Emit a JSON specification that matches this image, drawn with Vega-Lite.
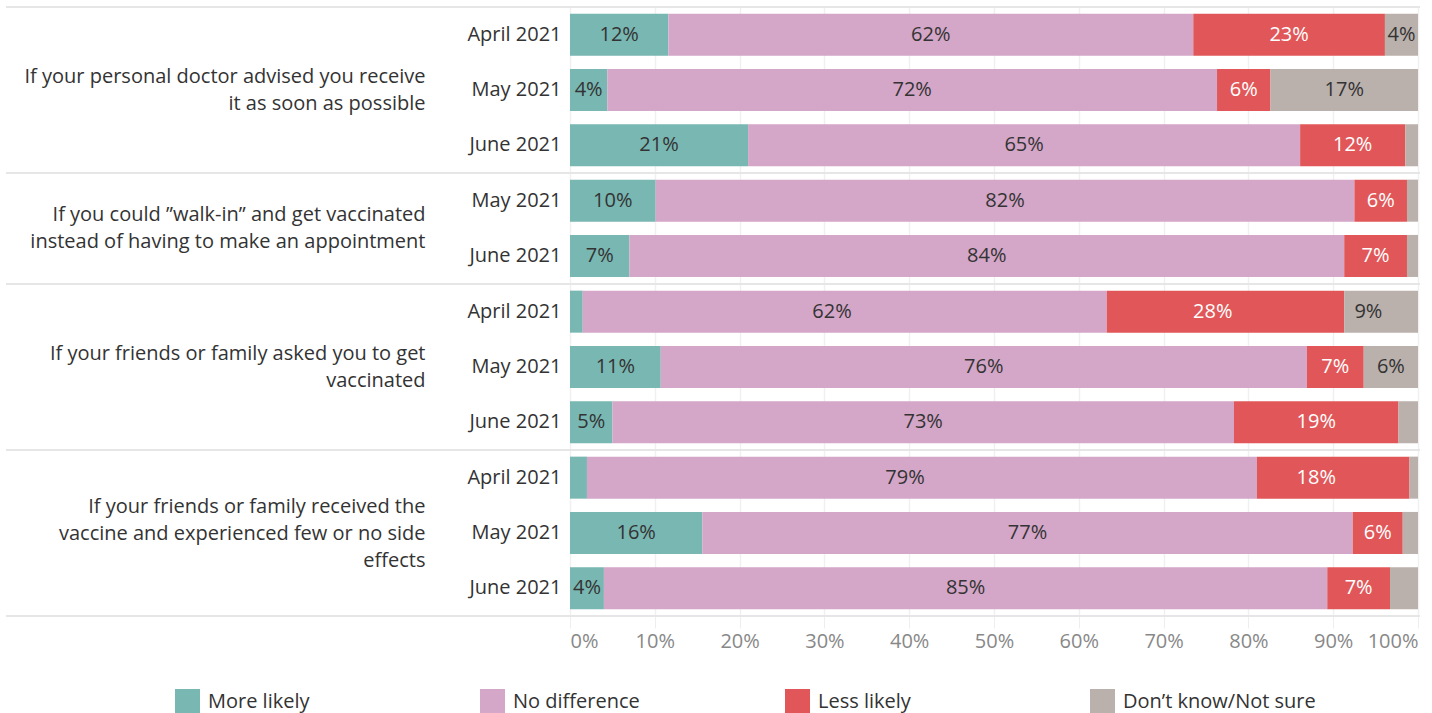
{
  "$schema": "https://vega.github.io/schema/vega-lite/v6.json",
  "padding": {"top": 6, "left": 5, "right": 10, "bottom": 0},
  "bounds": "flush",
  "data": {"values": [
    {"q": "doctor", "month": "April 2021", "response": "More likely", "k": 1, "value": 0.116},
    {"q": "doctor", "month": "April 2021", "response": "No difference", "k": 2, "value": 0.619},
    {"q": "doctor", "month": "April 2021", "response": "Less likely", "k": 3, "value": 0.226},
    {"q": "doctor", "month": "April 2021", "response": "Don’t know/Not sure", "k": 4, "value": 0.039},
    {"q": "doctor", "month": "May 2021", "response": "More likely", "k": 1, "value": 0.044},
    {"q": "doctor", "month": "May 2021", "response": "No difference", "k": 2, "value": 0.719},
    {"q": "doctor", "month": "May 2021", "response": "Less likely", "k": 3, "value": 0.063},
    {"q": "doctor", "month": "May 2021", "response": "Don’t know/Not sure", "k": 4, "value": 0.174},
    {"q": "doctor", "month": "June 2021", "response": "More likely", "k": 1, "value": 0.21},
    {"q": "doctor", "month": "June 2021", "response": "No difference", "k": 2, "value": 0.651},
    {"q": "doctor", "month": "June 2021", "response": "Less likely", "k": 3, "value": 0.124},
    {"q": "doctor", "month": "June 2021", "response": "Don’t know/Not sure", "k": 4, "value": 0.015},
    {"q": "walkin", "month": "May 2021", "response": "More likely", "k": 1, "value": 0.101},
    {"q": "walkin", "month": "May 2021", "response": "No difference", "k": 2, "value": 0.824},
    {"q": "walkin", "month": "May 2021", "response": "Less likely", "k": 3, "value": 0.062},
    {"q": "walkin", "month": "May 2021", "response": "Don’t know/Not sure", "k": 4, "value": 0.013},
    {"q": "walkin", "month": "June 2021", "response": "More likely", "k": 1, "value": 0.07},
    {"q": "walkin", "month": "June 2021", "response": "No difference", "k": 2, "value": 0.843},
    {"q": "walkin", "month": "June 2021", "response": "Less likely", "k": 3, "value": 0.074},
    {"q": "walkin", "month": "June 2021", "response": "Don’t know/Not sure", "k": 4, "value": 0.013},
    {"q": "asked", "month": "April 2021", "response": "More likely", "k": 1, "value": 0.015},
    {"q": "asked", "month": "April 2021", "response": "No difference", "k": 2, "value": 0.618},
    {"q": "asked", "month": "April 2021", "response": "Less likely", "k": 3, "value": 0.28},
    {"q": "asked", "month": "April 2021", "response": "Don’t know/Not sure", "k": 4, "value": 0.087},
    {"q": "asked", "month": "May 2021", "response": "More likely", "k": 1, "value": 0.107},
    {"q": "asked", "month": "May 2021", "response": "No difference", "k": 2, "value": 0.762},
    {"q": "asked", "month": "May 2021", "response": "Less likely", "k": 3, "value": 0.067},
    {"q": "asked", "month": "May 2021", "response": "Don’t know/Not sure", "k": 4, "value": 0.064},
    {"q": "asked", "month": "June 2021", "response": "More likely", "k": 1, "value": 0.05},
    {"q": "asked", "month": "June 2021", "response": "No difference", "k": 2, "value": 0.733},
    {"q": "asked", "month": "June 2021", "response": "Less likely", "k": 3, "value": 0.194},
    {"q": "asked", "month": "June 2021", "response": "Don’t know/Not sure", "k": 4, "value": 0.023},
    {"q": "received", "month": "April 2021", "response": "More likely", "k": 1, "value": 0.02},
    {"q": "received", "month": "April 2021", "response": "No difference", "k": 2, "value": 0.79},
    {"q": "received", "month": "April 2021", "response": "Less likely", "k": 3, "value": 0.18},
    {"q": "received", "month": "April 2021", "response": "Don’t know/Not sure", "k": 4, "value": 0.01},
    {"q": "received", "month": "May 2021", "response": "More likely", "k": 1, "value": 0.156},
    {"q": "received", "month": "May 2021", "response": "No difference", "k": 2, "value": 0.767},
    {"q": "received", "month": "May 2021", "response": "Less likely", "k": 3, "value": 0.059},
    {"q": "received", "month": "May 2021", "response": "Don’t know/Not sure", "k": 4, "value": 0.018},
    {"q": "received", "month": "June 2021", "response": "More likely", "k": 1, "value": 0.04},
    {"q": "received", "month": "June 2021", "response": "No difference", "k": 2, "value": 0.853},
    {"q": "received", "month": "June 2021", "response": "Less likely", "k": 3, "value": 0.074},
    {"q": "received", "month": "June 2021", "response": "Don’t know/Not sure", "k": 4, "value": 0.033}
  ]},
  "spacing": 0,
  "resolve": {"scale": {"y": "independent", "x": "shared", "color": "shared"}},
  "vconcat": [
    {
      "transform": [{"filter": "datum.q === 'doctor'"}],
      "width": 848,
      "height": {"step": 55.3},
      "layer": [
        {"mark": {"type": "rule", "color": "#e6e6e6", "strokeWidth": 2}, "encoding": {"x": {"value": -564}, "x2": {"value": 850}, "y": {"value": 0}}},
        {
          "mark": {"type": "bar"},
          "encoding": {
            "y": {"field": "month", "type": "ordinal", "sort": ["April 2021", "May 2021", "June 2021"],
              "title": ["If your personal doctor advised you receive", "it as soon as possible"],
              "scale": {"paddingInner": 0.24, "paddingOuter": 0.12},
              "axis": {"titleY": 69.5, "titleX": -145}},
            "x": {"field": "value", "type": "quantitative", "stack": "zero", "scale": {"domain": [0, 1], "nice": false}, "title": null,
              "axis": {"values": [0, 0.1, 0.2, 0.3, 0.4, 0.5, 0.6, 0.7, 0.8, 0.9, 1], "labels": false, "ticks": false, "domain": false, "gridColor": "#f0f0f0", "gridWidth": 1.5}},
            "color": {"field": "response", "type": "nominal", "sort": ["More likely", "No difference", "Less likely", "Don’t know/Not sure"],
              "scale": {"domain": ["More likely", "No difference", "Less likely", "Don’t know/Not sure"], "range": ["#79b7b2", "#d4a6c8", "#e15759", "#bab0ac"]},
              "legend": {"title": null, "orient": "none", "legendX": -395, "legendY": 682, "direction": "horizontal", "columns": 4, "gridAlign": "all", "columnPadding": 79, "symbolType": "square", "symbolSize": 625, "symbolStrokeWidth": 0, "symbolOpacity": 1, "labelFontSize": 20, "labelColor": "#333333", "labelOffset": 8, "labelLimit": 0}},
            "order": {"field": "k", "type": "quantitative"}
          }
        },
        {
          "transform": [{"filter": "datum.value >= 0.035"}],
          "mark": {"type": "text", "fontSize": 20, "baseline": "middle", "align": "center"},
          "encoding": {
            "y": {"field": "month", "type": "ordinal", "sort": ["April 2021", "May 2021", "June 2021"]},
            "x": {"field": "value", "type": "quantitative", "stack": "zero", "bandPosition": 0.5},
            "order": {"field": "k", "type": "quantitative"},
            "text": {"field": "value", "type": "quantitative", "format": ".0%"},
            "color": {"condition": {"test": "datum.response === 'Less likely'", "value": "#ffffff"}, "value": "#333333"}
          }
        }
      ]
    },
    {
      "transform": [{"filter": "datum.q === 'walkin'"}],
      "width": 848,
      "height": {"step": 55.3},
      "layer": [
        {"mark": {"type": "rule", "color": "#e6e6e6", "strokeWidth": 2}, "encoding": {"x": {"value": -564}, "x2": {"value": 850}, "y": {"value": 0}}},
        {
          "mark": {"type": "bar"},
          "encoding": {
            "y": {"field": "month", "type": "ordinal", "sort": ["April 2021", "May 2021", "June 2021"],
              "title": ["If you could ”walk-in” and get vaccinated", "instead of having to make an appointment"],
              "scale": {"paddingInner": 0.24, "paddingOuter": 0.12},
              "axis": {"titleY": 41.9, "titleX": -145}},
            "x": {"field": "value", "type": "quantitative", "stack": "zero", "scale": {"domain": [0, 1], "nice": false}, "title": null,
              "axis": {"values": [0, 0.1, 0.2, 0.3, 0.4, 0.5, 0.6, 0.7, 0.8, 0.9, 1], "labels": false, "ticks": false, "domain": false, "gridColor": "#f0f0f0", "gridWidth": 1.5}},
            "color": {"field": "response", "type": "nominal", "sort": ["More likely", "No difference", "Less likely", "Don’t know/Not sure"]},
            "order": {"field": "k", "type": "quantitative"}
          }
        },
        {
          "transform": [{"filter": "datum.value >= 0.035"}],
          "mark": {"type": "text", "fontSize": 20, "baseline": "middle", "align": "center"},
          "encoding": {
            "y": {"field": "month", "type": "ordinal", "sort": ["April 2021", "May 2021", "June 2021"]},
            "x": {"field": "value", "type": "quantitative", "stack": "zero", "bandPosition": 0.5},
            "order": {"field": "k", "type": "quantitative"},
            "text": {"field": "value", "type": "quantitative", "format": ".0%"},
            "color": {"condition": {"test": "datum.response === 'Less likely'", "value": "#ffffff"}, "value": "#333333"}
          }
        }
      ]
    },
    {
      "transform": [{"filter": "datum.q === 'asked'"}],
      "width": 848,
      "height": {"step": 55.3},
      "layer": [
        {"mark": {"type": "rule", "color": "#e6e6e6", "strokeWidth": 2}, "encoding": {"x": {"value": -564}, "x2": {"value": 850}, "y": {"value": 0}}},
        {
          "mark": {"type": "bar"},
          "encoding": {
            "y": {"field": "month", "type": "ordinal", "sort": ["April 2021", "May 2021", "June 2021"],
              "title": ["If your friends or family asked you to get", "vaccinated"],
              "scale": {"paddingInner": 0.24, "paddingOuter": 0.12},
              "axis": {"titleY": 69.5, "titleX": -145}},
            "x": {"field": "value", "type": "quantitative", "stack": "zero", "scale": {"domain": [0, 1], "nice": false}, "title": null,
              "axis": {"values": [0, 0.1, 0.2, 0.3, 0.4, 0.5, 0.6, 0.7, 0.8, 0.9, 1], "labels": false, "ticks": false, "domain": false, "gridColor": "#f0f0f0", "gridWidth": 1.5}},
            "color": {"field": "response", "type": "nominal", "sort": ["More likely", "No difference", "Less likely", "Don’t know/Not sure"]},
            "order": {"field": "k", "type": "quantitative"}
          }
        },
        {
          "transform": [{"filter": "datum.value >= 0.035"}],
          "mark": {"type": "text", "fontSize": 20, "baseline": "middle", "align": "center"},
          "encoding": {
            "y": {"field": "month", "type": "ordinal", "sort": ["April 2021", "May 2021", "June 2021"]},
            "x": {"field": "value", "type": "quantitative", "stack": "zero", "bandPosition": 0.5},
            "order": {"field": "k", "type": "quantitative"},
            "text": {"field": "value", "type": "quantitative", "format": ".0%"},
            "color": {"condition": {"test": "datum.response === 'Less likely'", "value": "#ffffff"}, "value": "#333333"}
          }
        }
      ]
    },
    {
      "transform": [{"filter": "datum.q === 'received'"}],
      "width": 848,
      "height": {"step": 55.3},
      "layer": [
        {"mark": {"type": "rule", "color": "#e6e6e6", "strokeWidth": 2}, "encoding": {"x": {"value": -564}, "x2": {"value": 850}, "y": {"value": 0}}},
        {"mark": {"type": "rule", "color": "#e6e6e6", "strokeWidth": 2}, "encoding": {"x": {"value": -564}, "x2": {"value": 850}, "y": {"value": 165.9}}},
        {
          "mark": {"type": "bar"},
          "encoding": {
            "y": {"field": "month", "type": "ordinal", "sort": ["April 2021", "May 2021", "June 2021"],
              "title": ["If your friends or family received the", "vaccine and experienced few or no side", "effects"],
              "scale": {"paddingInner": 0.24, "paddingOuter": 0.12},
              "axis": {"titleY": 56, "titleX": -145}},
            "x": {"field": "value", "type": "quantitative", "stack": "zero", "scale": {"domain": [0, 1], "nice": false}, "title": null,
              "axis": {"values": [0, 0.1, 0.2, 0.3, 0.4, 0.5, 0.6, 0.7, 0.8, 0.9, 1], "format": ".0%", "labelFlush": true, "labelFontSize": 20, "labelColor": "#888888", "domain": false, "tickColor": "#eeeeee", "tickSize": 12, "labelPadding": 4, "gridColor": "#f0f0f0", "gridWidth": 1.5}},
            "color": {"field": "response", "type": "nominal", "sort": ["More likely", "No difference", "Less likely", "Don’t know/Not sure"]},
            "order": {"field": "k", "type": "quantitative"}
          }
        },
        {
          "transform": [{"filter": "datum.value >= 0.035"}],
          "mark": {"type": "text", "fontSize": 20, "baseline": "middle", "align": "center"},
          "encoding": {
            "y": {"field": "month", "type": "ordinal", "sort": ["April 2021", "May 2021", "June 2021"]},
            "x": {"field": "value", "type": "quantitative", "stack": "zero", "bandPosition": 0.5},
            "order": {"field": "k", "type": "quantitative"},
            "text": {"field": "value", "type": "quantitative", "format": ".0%"},
            "color": {"condition": {"test": "datum.response === 'Less likely'", "value": "#ffffff"}, "value": "#333333"}
          }
        }
      ]
    }
  ],
  "config": {
    "font": "Open Sans",
    "view": {"stroke": null},
    "axisY": {"ticks": false, "domain": false, "labelFontSize": 20, "labelColor": "#333333", "labelPadding": 9,
      "titleAngle": 0, "titleAlign": "right", "titleBaseline": "middle", "titleFontSize": 20, "titleFontWeight": "normal", "titleColor": "#333333", "titleLineHeight": 27}
  }
}
